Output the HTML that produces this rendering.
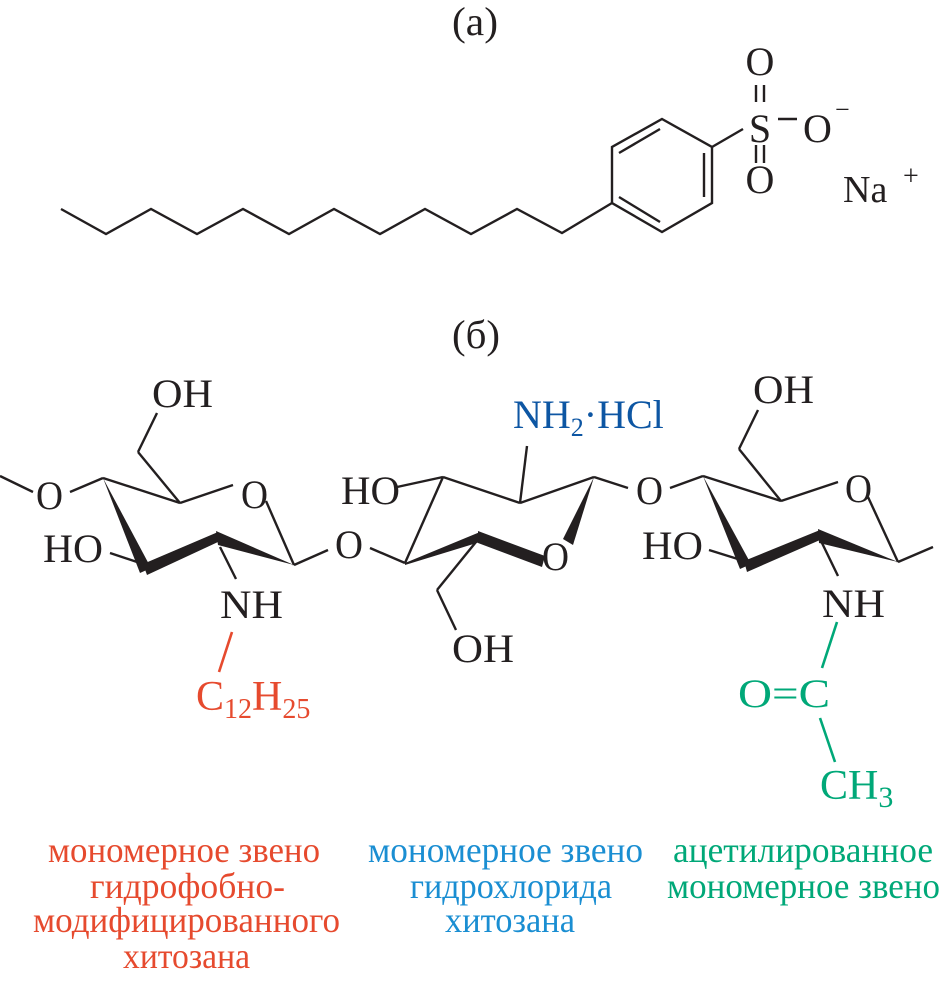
<!DOCTYPE html>
<html><head><meta charset="utf-8"><style>
html,body{margin:0;padding:0;background:#fff;}
svg{display:block;}
text{font-family:"Liberation Serif","DejaVu Serif",serif;}
</style></head><body>
<svg width="941" height="991" viewBox="0 0 941 991" xmlns="http://www.w3.org/2000/svg">
<g fill="#231f20" font-size="40">
<text x="452" y="35" textLength="46" lengthAdjust="spacingAndGlyphs">(a)</text>
<text x="452" y="348" textLength="48" lengthAdjust="spacingAndGlyphs">(б)</text>
</g>
<!-- part a -->
<g stroke="#231f20" stroke-width="2.4" fill="none" stroke-linejoin="miter">
<polyline points="61,209 106,234 151,209 197,234 243,209 289,234 334,209 380,234 425,209 471,234 517,209 562,233 612,203"/>
<polygon points="662,119 712,147 712,203 662,232 612,203 612,147"/>
<line x1="619" y1="153" x2="660" y2="129"/>
<line x1="704" y1="153" x2="704" y2="197"/>
<line x1="619" y1="197" x2="660" y2="222"/>
<line x1="712" y1="147" x2="743" y2="129"/>
<line x1="756" y1="85" x2="756" y2="102"/><line x1="764" y1="85" x2="764" y2="102"/>
<line x1="756" y1="145" x2="756" y2="163"/><line x1="764" y1="145" x2="764" y2="163"/>
<line x1="778" y1="119" x2="797" y2="119"/>
</g>
<g fill="#231f20" font-size="40">
<text x="760" y="75" text-anchor="middle">O</text>
<text x="760" y="142" text-anchor="middle">S</text>
<text x="760" y="193" text-anchor="middle">O</text>
<text x="803" y="142">O</text>
<text x="835" y="118" font-size="26">−</text>
<text x="843" y="202" font-size="38">Na</text>
<text x="903" y="185" font-size="28">+</text>
</g>
<!-- part b bonds -->
<g stroke="#231f20" stroke-width="2.4" fill="none">
<line x1="0" y1="476" x2="33" y2="492"/>
<line x1="70" y1="492" x2="103" y2="478"/>
<line x1="103" y1="478" x2="180" y2="503"/>
<line x1="180" y1="503" x2="233" y2="485"/>
<line x1="266" y1="501" x2="294" y2="565"/>
<line x1="180" y1="503" x2="138" y2="452"/>
<line x1="138" y1="452" x2="157" y2="413"/>
<line x1="110" y1="553" x2="140" y2="563"/>
<line x1="220" y1="547" x2="236" y2="579"/>
<line x1="294" y1="565" x2="328" y2="550"/>
<line x1="370" y1="548" x2="405" y2="563"/>
<line x1="397" y1="487" x2="443" y2="477"/>
<line x1="443" y1="477" x2="520" y2="503"/>
<line x1="520" y1="503" x2="594" y2="477"/>
<line x1="520" y1="503" x2="527" y2="446"/>
<line x1="594" y1="477" x2="628" y2="488"/>
<line x1="443" y1="477" x2="405" y2="563"/>
<line x1="480" y1="537" x2="437" y2="590"/>
<line x1="437" y1="590" x2="456" y2="630"/>
<line x1="670" y1="488" x2="703" y2="476"/>
<line x1="703" y1="476" x2="781" y2="501"/>
<line x1="781" y1="501" x2="838" y2="482"/>
<line x1="781" y1="501" x2="739" y2="449"/>
<line x1="739" y1="449" x2="758" y2="410"/>
<line x1="868" y1="497" x2="898" y2="562"/>
<line x1="898" y1="562" x2="933" y2="547"/>
<line x1="709" y1="550" x2="741" y2="560"/>
<line x1="822" y1="543" x2="838" y2="576"/>
</g>
<!-- bold wedges -->
<g fill="#231f20">
<polygon points="103,478 151,568 140,573"/>
<polygon points="143,564 218,532 218,542 147,575"/>
<polygon points="216,531 294,565 218,545"/>
<polygon points="405,563 480,532 480,542 405,565"/>
<polygon points="478,531 545,556 542,567 478,543"/>
<polygon points="594,477 573,545 563,539"/>
<polygon points="703,476 751,564 740,569"/>
<polygon points="744,561 820,530 820,540 747,572"/>
<polygon points="818,529 898,562 819,543"/>
</g>
<g fill="#231f20" font-size="40">
<text x="36" y="509" textLength="27" lengthAdjust="spacingAndGlyphs">O</text>
<text x="152" y="407" textLength="61" lengthAdjust="spacingAndGlyphs">OH</text>
<text x="241" y="508" textLength="27" lengthAdjust="spacingAndGlyphs">O</text>
<text x="43" y="562" textLength="60" lengthAdjust="spacingAndGlyphs">HO</text>
<text x="220" y="618" textLength="63" lengthAdjust="spacingAndGlyphs">NH</text>
<text x="335" y="558" textLength="28" lengthAdjust="spacingAndGlyphs">O</text>
<text x="341" y="504" textLength="59" lengthAdjust="spacingAndGlyphs">HO</text>
<text x="542" y="570" textLength="27" lengthAdjust="spacingAndGlyphs">O</text>
<text x="452" y="662" textLength="62" lengthAdjust="spacingAndGlyphs">OH</text>
<text x="636" y="504" textLength="27" lengthAdjust="spacingAndGlyphs">O</text>
<text x="753" y="403" textLength="61" lengthAdjust="spacingAndGlyphs">OH</text>
<text x="845" y="502" textLength="27" lengthAdjust="spacingAndGlyphs">O</text>
<text x="642" y="559" textLength="61" lengthAdjust="spacingAndGlyphs">HO</text>
<text x="822" y="617" textLength="63" lengthAdjust="spacingAndGlyphs">NH</text>
</g>
<text x="513" y="428" fill="#0d56a3" font-size="40">NH<tspan font-size="26" dy="8">2</tspan><tspan dy="-8">·HCl</tspan></text>
<line x1="232" y1="632" x2="219" y2="672" stroke="#e64a2e" stroke-width="2.6"/>
<text x="196" y="710" fill="#e64a2e" font-size="42">C<tspan font-size="28" dy="8">12</tspan><tspan dy="-8">H</tspan><tspan font-size="28" dy="8">25</tspan></text>
<g stroke="#00a878" stroke-width="2.6">
<line x1="837" y1="622" x2="822" y2="668"/>
<line x1="820" y1="718" x2="835" y2="762"/>
</g>
<g fill="#00a878" font-size="40">
<text x="738" y="707" textLength="92" lengthAdjust="spacingAndGlyphs">O=C</text>
<text x="820" y="799" font-size="42">CH<tspan font-size="30" dy="8">3</tspan></text>
</g>
<!-- captions -->
<g font-size="36">
<g fill="#e64a2e">
<text x="48" y="862" textLength="272" lengthAdjust="spacingAndGlyphs">мономерное звено</text>
<text x="90" y="898" textLength="195" lengthAdjust="spacingAndGlyphs">гидрофобно-</text>
<text x="33" y="932" textLength="307" lengthAdjust="spacingAndGlyphs">модифицированного</text>
<text x="123" y="968" textLength="127" lengthAdjust="spacingAndGlyphs">хитозана</text>
</g>
<g fill="#1a8ed2">
<text x="368" y="862" textLength="275" lengthAdjust="spacingAndGlyphs">мономерное звено</text>
<text x="410" y="898" textLength="202" lengthAdjust="spacingAndGlyphs">гидрохлорида</text>
<text x="445" y="932" textLength="130" lengthAdjust="spacingAndGlyphs">хитозана</text>
</g>
<g fill="#00a878">
<text x="673" y="862" textLength="260" lengthAdjust="spacingAndGlyphs">ацетилированное</text>
<text x="667" y="898" textLength="273" lengthAdjust="spacingAndGlyphs">мономерное звено</text>
</g>
</g>
</svg>
</body></html>
